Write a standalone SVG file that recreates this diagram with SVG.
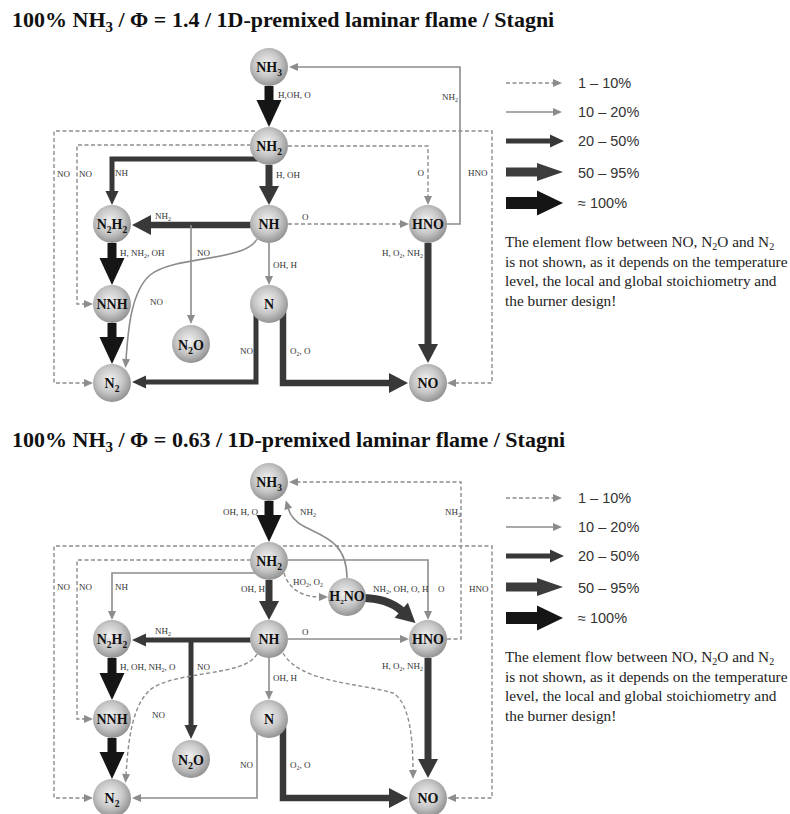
<svg xmlns="http://www.w3.org/2000/svg" width="790" height="814" viewBox="0 0 790 814">
<defs>
<radialGradient id="sph" cx="0.45" cy="0.42" r="0.62">
<stop offset="0" stop-color="#f2f2f2"/>
<stop offset="0.55" stop-color="#c6c6c6"/>
<stop offset="1" stop-color="#8a8a8a"/>
</radialGradient>
<marker id="hg" markerUnits="userSpaceOnUse" orient="auto" markerWidth="10" markerHeight="10" refX="0" refY="0" overflow="visible"><path d="M-1,-4 L8,0 L-1,4z" fill="#8c8c8c"/></marker>
<marker id="hd1" markerUnits="userSpaceOnUse" orient="auto" markerWidth="14" markerHeight="14" refX="0" refY="0" overflow="visible"><path d="M-1,-6.5 L13,0 L-1,6.5z" fill="#383838"/></marker>
<marker id="hd2" markerUnits="userSpaceOnUse" orient="auto" markerWidth="20" markerHeight="20" refX="0" refY="0" overflow="visible"><path d="M-1,-10 L18,0 L-1,10z" fill="#383838"/></marker>
<marker id="hbk" markerUnits="userSpaceOnUse" orient="auto" markerWidth="28" markerHeight="28" refX="0" refY="0" overflow="visible"><path d="M-1,-12.5 L26,0 L-1,12.5z" fill="#151515"/></marker>
<marker id="hl4" markerUnits="userSpaceOnUse" orient="auto" markerWidth="26" markerHeight="20" refX="0" refY="0" overflow="visible"><path d="M-1,-9 L25,0 L-1,9z" fill="#3c3c3c"/></marker>
<marker id="hl5" markerUnits="userSpaceOnUse" orient="auto" markerWidth="26" markerHeight="26" refX="0" refY="0" overflow="visible"><path d="M-1,-12.5 L25,0 L-1,12.5z" fill="#151515"/></marker>
</defs>
<style>
.title{font-family:"Liberation Serif","Times New Roman",serif;font-weight:bold;font-size:22px;fill:#111}
.nd{fill:url(#sph)}
.nt{font-family:"Liberation Serif","Times New Roman",serif;font-weight:bold;font-size:14px;text-anchor:middle;fill:#111}
.lb{font-family:"Liberation Serif","Times New Roman",serif;font-size:9px;fill:#333}
.g{stroke:#8c8c8c;stroke-width:1.6;fill:none;marker-end:url(#hg)}
.gd{stroke:#8c8c8c;stroke-width:1.4;stroke-dasharray:4 2.5;fill:none;marker-end:url(#hg)}
.d1{stroke:#383838;stroke-width:5;fill:none;marker-end:url(#hd1)}
.d2{stroke:#383838;stroke-width:7;fill:none;marker-end:url(#hd2)}
.bk{stroke:#151515;stroke-width:9;fill:none;marker-end:url(#hbk)}
.lt{font-family:"Liberation Sans",Arial,sans-serif;font-size:14.5px;fill:#333}
.pt{font-family:"Liberation Serif","Times New Roman",serif;font-size:15.3px;fill:#222}
</style>
<rect width="790" height="814" fill="#ffffff"/>

<!-- ============ TOP DIAGRAM ============ -->
<text class="title" x="12" y="27">100% NH<tspan dy="5" font-size="15">3</tspan><tspan dy="-5"> / Φ = 1.4 / 1D-premixed laminar flame / Stagni</tspan></text>

<g id="top">
<g id="top-connectors">
<path class="gd" d="M255,131 H54 V383 H85"/>
<path class="gd" d="M251,145 H77 V304 H85"/>
<path class="gd" d="M283,131 H492 V383 H455"/>
<path class="bk" d="M269,86 V101"/>
<path class="d2" d="M269,165 V187"/>
<path class="d1" d="M262,159 H112 V192"/>
<path class="d2" style="stroke-width:6.5" d="M252,225 H150"/>
<path class="g" d="M191,225 V316"/>
<path class="g" d="M257,239 C245,262 175,255 150,275 C131,292 128,330 126,360"/>
<path class="g" d="M269,243 V277"/>
<path class="gd" d="M288,224 H401"/>
<path class="gd" d="M288,146 H428 V197"/>
<path class="g" d="M447,224 H460 V67 H297"/>
<path class="d2" d="M428,243 V345"/>
<path class="d1" d="M256,312 V382 H145"/>
<path class="d2" style="stroke-width:6.5" d="M283,312 V383 H390"/>
<path class="bk" d="M112,243 V259"/>
<path class="bk" d="M112,323 V338"/>
<text class="lb" x="278" y="98">H,OH, O</text>
<text class="lb" x="57" y="177">NO</text>
<text class="lb" x="79" y="177">NO</text>
<text class="lb" x="115" y="176">NH</text>
<text class="lb" x="276" y="178">H, OH</text>
<text class="lb" x="424" y="176" text-anchor="end">O</text>
<text class="lb" x="468" y="176">HNO</text>
<text class="lb" x="442" y="100">NH<tspan dy="2" font-size="6">2</tspan></text>
<text class="lb" x="155" y="219">NH<tspan dy="2" font-size="6">2</tspan></text>
<text class="lb" x="302" y="220">O</text>
<text class="lb" x="120" y="256">H, NH<tspan dy="2" font-size="6">2</tspan><tspan dy="-2">, OH</tspan></text>
<text class="lb" x="197" y="256">NO</text>
<text class="lb" x="273" y="268">OH, H</text>
<text class="lb" x="150" y="305">NO</text>
<text class="lb" x="423" y="256" text-anchor="end">H, O<tspan dy="2" font-size="6">2</tspan><tspan dy="-2">, NH</tspan><tspan dy="2" font-size="6">2</tspan></text>
<text class="lb" x="240" y="354">NO</text>
<text class="lb" x="290" y="354">O<tspan dy="2" font-size="6">2</tspan><tspan dy="-2">, O</tspan></text>
</g>
<g id="top-NH3"><circle class="nd" cx="269" cy="67" r="19"/><text class="nt" x="269" y="72">NH<tspan dy="4" font-size="9.5">3</tspan></text></g>
<g id="top-NH2"><circle class="nd" cx="269" cy="146" r="19"/><text class="nt" x="269" y="151">NH<tspan dy="4" font-size="9.5">2</tspan></text></g>
<g id="top-NH"><circle class="nd" cx="269" cy="224" r="19"/><text class="nt" x="269" y="229">NH</text></g>
<g id="top-N2H2"><circle class="nd" cx="112" cy="224" r="19"/><text class="nt" x="112" y="229">N<tspan dy="4" font-size="9.5">2</tspan><tspan dy="-4">H</tspan><tspan dy="4" font-size="9.5">2</tspan></text></g>
<g id="top-NNH"><circle class="nd" cx="112" cy="304" r="19"/><text class="nt" x="112" y="309">NNH</text></g>
<g id="top-N2"><circle class="nd" cx="112" cy="383" r="19"/><text class="nt" x="112" y="388">N<tspan dy="4" font-size="9.5">2</tspan></text></g>
<g id="top-N2O"><circle class="nd" cx="191" cy="344" r="19"/><text class="nt" x="191" y="349.5" font-size="15.5">N<tspan dy="4" font-size="10">2</tspan><tspan dy="-4">O</tspan></text></g>
<g id="top-N"><circle class="nd" cx="269" cy="304" r="19"/><text class="nt" x="269" y="309">N</text></g>
<g id="top-HNO"><circle class="nd" cx="428" cy="224" r="19"/><text class="nt" x="428" y="229">HNO</text></g>
<g id="top-NO"><circle class="nd" cx="428" cy="383" r="19"/><text class="nt" x="428" y="388">NO</text></g>
</g>

<g id="top-legend">
<path class="gd" d="M506,83 H554"/>
<path class="g" d="M506,112 H554"/>
<path class="d1" d="M506,141 H551"/>
<path d="M506,172 H538" stroke="#3c3c3c" stroke-width="9" fill="none" marker-end="url(#hl4)"/>
<path d="M506,203 H538" stroke="#151515" stroke-width="12" fill="none" marker-end="url(#hl5)"/>
<text class="lt" x="578" y="88">1 – 10%</text>
<text class="lt" x="578" y="117">10 – 20%</text>
<text class="lt" x="578" y="146">20 – 50%</text>
<text class="lt" x="578" y="178">50 – 95%</text>
<text class="lt" x="578" y="208">≈ 100%</text>
<text class="pt" x="505" y="247">The element flow between NO, N<tspan dy="3" font-size="10">2</tspan><tspan dy="-3">O and N</tspan><tspan dy="3" font-size="10">2</tspan></text>
<text class="pt" x="505" y="266.5">is not shown, as it depends on the temperature</text>
<text class="pt" x="505" y="286">level, the local and global stoichiometry and</text>
<text class="pt" x="505" y="305.5">the burner design!</text>
</g>

<!-- ============ BOTTOM DIAGRAM ============ -->
<text class="title" x="12" y="447">100% NH<tspan dy="5" font-size="15">3</tspan><tspan dy="-5"> / Φ = 0.63 / 1D-premixed laminar flame / Stagni</tspan></text>

<g id="bottom" transform="translate(0,415)">
<g id="bottom-connectors">
<path class="gd" d="M255,131 H54 V383 H85"/>
<path class="gd" d="M251,145 H77 V304 H85"/>
<path class="gd" d="M283,131 H492 V383 H455"/>
<path class="bk" d="M269,86 V101"/>
<path class="d2" d="M269,165 V187"/>
<path class="g" d="M347,163 C347,128 325,122 305,112 C295,107 290,100 288,93"/>
<path class="gd" d="M447,224 H461 V67 H297"/>
<path class="gd" d="M284,158 C288,172 300,182 320,182"/>
<path class="d2" style="stroke-width:8" d="M362,183 C380,183 393,188 402,196"/>
<path class="g" d="M288,145 H428 V197"/>
<path class="g" d="M262,158 H112 V197"/>
<path class="d1" d="M252,225 H145"/>
<path class="d1" d="M191,225 V311"/>
<path class="gd" d="M257,239 C245,262 175,255 150,275 C131,292 128,330 126,360"/>
<path class="g" d="M269,243 V277"/>
<path class="g" d="M288,224 H401"/>
<path class="gd" d="M283,238 C300,268 360,268 393,278 C410,288 413,325 413,356"/>
<path class="d2" d="M428,243 V345"/>
<path class="g" d="M257,312 V383 H140"/>
<path class="d2" style="stroke-width:6.5" d="M283,312 V383 H390"/>
<path class="bk" d="M112,243 V259"/>
<path class="bk" d="M112,323 V338"/>
<text class="lb" x="258" y="100" text-anchor="end">OH, H, O</text>
<text class="lb" x="300" y="100">NH<tspan dy="2" font-size="6">2</tspan></text>
<text class="lb" x="445" y="100">NH<tspan dy="2" font-size="6">2</tspan></text>
<text class="lb" x="57" y="175">NO</text>
<text class="lb" x="79" y="175">NO</text>
<text class="lb" x="115" y="175">NH</text>
<text class="lb" x="265" y="177" text-anchor="end">OH, H</text>
<text class="lb" x="293" y="170">HO<tspan dy="2" font-size="6">2</tspan><tspan dy="-2">, O</tspan><tspan dy="2" font-size="6">2</tspan></text>
<text class="lb" x="373" y="177">NH<tspan dy="2" font-size="6">2</tspan><tspan dy="-2">, OH, O, H</tspan></text>
<text class="lb" x="438" y="177">O</text>
<text class="lb" x="469" y="177">HNO</text>
<text class="lb" x="155" y="219">NH<tspan dy="2" font-size="6">2</tspan></text>
<text class="lb" x="302" y="220">O</text>
<text class="lb" x="120" y="255">H, OH, NH<tspan dy="2" font-size="6">2</tspan><tspan dy="-2">, O</tspan></text>
<text class="lb" x="197" y="255">NO</text>
<text class="lb" x="273" y="266">OH, H</text>
<text class="lb" x="423" y="254" text-anchor="end">H, O<tspan dy="2" font-size="6">2</tspan><tspan dy="-2">, NH</tspan><tspan dy="2" font-size="6">2</tspan></text>
<text class="lb" x="152" y="303">NO</text>
<text class="lb" x="240" y="353">NO</text>
<text class="lb" x="290" y="353">O<tspan dy="2" font-size="6">2</tspan><tspan dy="-2">, O</tspan></text>
</g>
<g id="bottom-NH3"><circle class="nd" cx="269" cy="67" r="19"/><text class="nt" x="269" y="72">NH<tspan dy="4" font-size="9.5">3</tspan></text></g>
<g id="bottom-NH2"><circle class="nd" cx="269" cy="146" r="19"/><text class="nt" x="269" y="151">NH<tspan dy="4" font-size="9.5">2</tspan></text></g>
<g id="bottom-H2NO"><circle class="nd" cx="347" cy="182" r="19"/><text class="nt" x="347" y="186" font-size="10">H<tspan dy="3" font-size="7">2</tspan><tspan dy="-3">NO</tspan></text></g>
<g id="bottom-NH"><circle class="nd" cx="269" cy="224" r="19"/><text class="nt" x="269" y="229">NH</text></g>
<g id="bottom-N2H2"><circle class="nd" cx="112" cy="224" r="19"/><text class="nt" x="112" y="229">N<tspan dy="4" font-size="9.5">2</tspan><tspan dy="-4">H</tspan><tspan dy="4" font-size="9.5">2</tspan></text></g>
<g id="bottom-NNH"><circle class="nd" cx="112" cy="304" r="19"/><text class="nt" x="112" y="309">NNH</text></g>
<g id="bottom-N2"><circle class="nd" cx="112" cy="383" r="19"/><text class="nt" x="112" y="388">N<tspan dy="4" font-size="9.5">2</tspan></text></g>
<g id="bottom-N2O"><circle class="nd" cx="191" cy="344" r="19"/><text class="nt" x="191" y="349.5" font-size="15.5">N<tspan dy="4" font-size="10">2</tspan><tspan dy="-4">O</tspan></text></g>
<g id="bottom-N"><circle class="nd" cx="269" cy="304" r="19"/><text class="nt" x="269" y="309">N</text></g>
<g id="bottom-HNO"><circle class="nd" cx="428" cy="224" r="19"/><text class="nt" x="428" y="229">HNO</text></g>
<g id="bottom-NO"><circle class="nd" cx="428" cy="383" r="19"/><text class="nt" x="428" y="388">NO</text></g>
</g>

<g id="bottom-legend" transform="translate(0,415)">
<path class="gd" d="M506,83 H554"/>
<path class="g" d="M506,112 H554"/>
<path class="d1" d="M506,141 H551"/>
<path d="M506,172 H538" stroke="#3c3c3c" stroke-width="9" fill="none" marker-end="url(#hl4)"/>
<path d="M506,203 H538" stroke="#151515" stroke-width="12" fill="none" marker-end="url(#hl5)"/>
<text class="lt" x="578" y="88">1 – 10%</text>
<text class="lt" x="578" y="117">10 – 20%</text>
<text class="lt" x="578" y="146">20 – 50%</text>
<text class="lt" x="578" y="178">50 – 95%</text>
<text class="lt" x="578" y="208">≈ 100%</text>
<text class="pt" x="505" y="247">The element flow between NO, N<tspan dy="3" font-size="10">2</tspan><tspan dy="-3">O and N</tspan><tspan dy="3" font-size="10">2</tspan></text>
<text class="pt" x="505" y="266.5">is not shown, as it depends on the temperature</text>
<text class="pt" x="505" y="286">level, the local and global stoichiometry and</text>
<text class="pt" x="505" y="305.5">the burner design!</text>
</g>
</svg>
